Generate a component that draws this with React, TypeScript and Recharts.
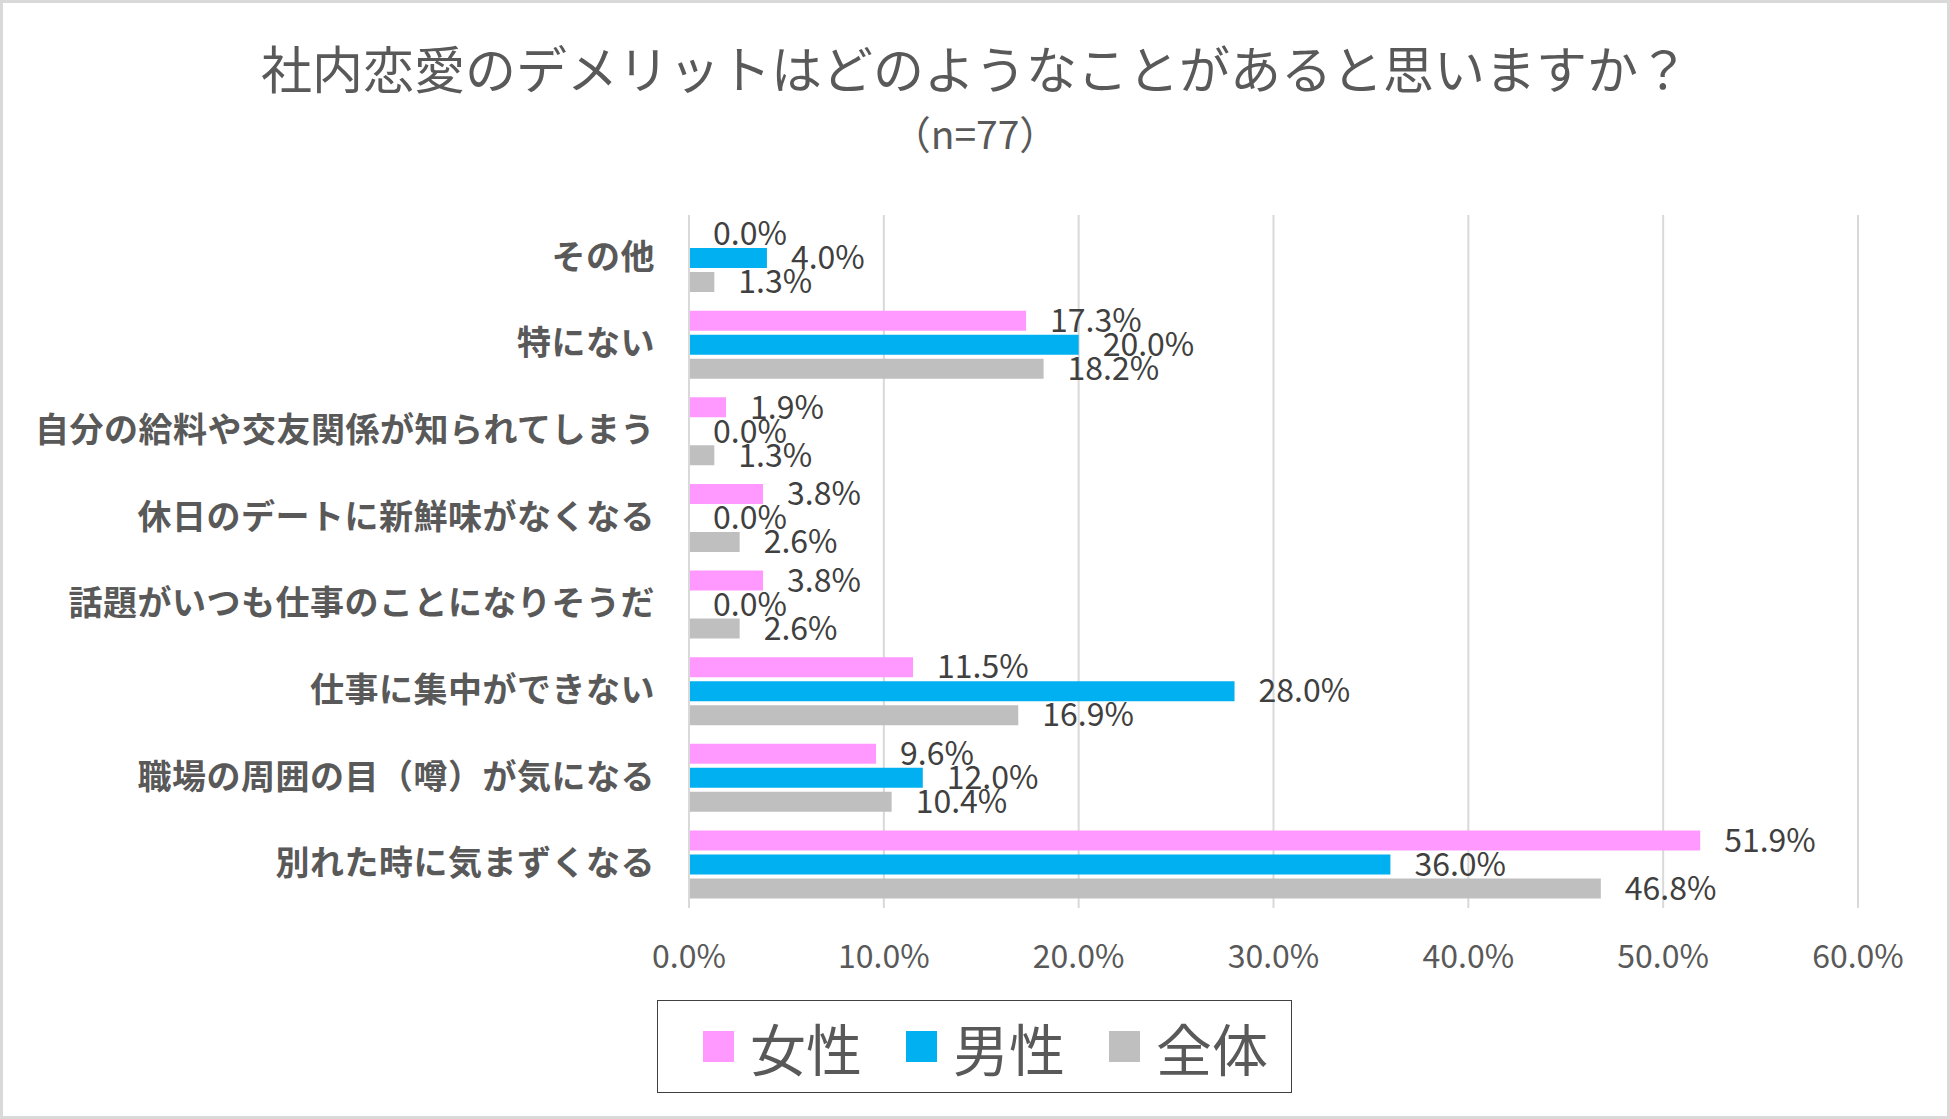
import React from 'react';
import { BarChart, Bar, XAxis, YAxis, CartesianGrid, LabelList, Legend } from 'recharts';

const categories = [
  'その他',
  '特にない',
  '自分の給料や交友関係が知られてしまう',
  '休日のデートに新鮮味がなくなる',
  '話題がいつも仕事のことになりそうだ',
  '仕事に集中ができない',
  '職場の周囲の目（噂）が気になる',
  '別れた時に気まずくなる',
];
const female = [0.0, 17.3, 1.9, 3.8, 3.8, 11.5, 9.6, 51.9];
const male = [4.0, 20.0, 0.0, 0.0, 0.0, 28.0, 12.0, 36.0];
const total = [1.3, 18.2, 1.3, 2.6, 2.6, 16.9, 10.4, 46.8];
const xTicks = [0, 10, 20, 30, 40, 50, 60];

const seriesNames = ['女性', '男性', '全体'];
const seriesColors = ['#FF99FF', '#00B0F0', '#BFBFBF'];

const data = categories.map((c, i) => ({ name: c, female: female[i], male: male[i], total: total[i] }));

const FONT = '"Noto Sans CJK JP", "Noto Sans", sans-serif';

const YTick = (props: any) => {
  const { x, y, payload } = props;
  return (
    <text x={x} y={y} dy={-4} textAnchor="end" dominantBaseline="central" fill="#595959" fontSize={34} fontWeight={700} fontFamily={FONT} letterSpacing={0.5}>
      {payload.value}
    </text>
  );
};

const XTick = (props: any) => {
  const { x, y, payload } = props;
  return (
    <text x={x} y={y} textAnchor="middle" dominantBaseline="central" fill="#595959" fontSize={32} fontFamily={FONT}>
      {`${Number(payload.value).toFixed(1)}%`}
    </text>
  );
};

const LegendContent = () => (
  <div
    style={{
      width: 635,
      height: 93,
      border: '1.5px solid #404040',
      boxSizing: 'border-box',
      display: 'flex',
      alignItems: 'center',
      justifyContent: 'flex-start',
      paddingLeft: 45,
      fontFamily: FONT,
      background: '#fff',
    }}
  >
    {seriesNames.map((n, i) => (
      <div key={n} style={{ display: 'flex', alignItems: 'center', marginRight: i < 2 ? 44 : 0 }}>
        <div style={{ width: 31, height: 31, background: seriesColors[i], marginRight: 16 }} />
        <span style={{ fontSize: 56, color: '#595959', lineHeight: 1 }}>{n}</span>
      </div>
    ))}
  </div>
);

const fmt = (v: any) => `${Number(v).toFixed(1)}%`;

export default function App() {
  return (
    <div
      style={{
        position: 'absolute',
        left: 0,
        top: 0,
        width: 1950,
        height: 1119,
        background: '#fff',
        boxSizing: 'border-box',
        border: '3px solid #d9d9d9',
        overflow: 'hidden',
      }}
    >
      <div
        style={{
          position: 'absolute',
          left: 0,
          top: 34,
          width: '100%',
          textAlign: 'center',
          fontFamily: FONT,
          fontSize: 51,
          color: '#595959',
          lineHeight: 1.2,
        }}
      >
        社内恋愛のデメリットはどのようなことがあると思いますか？
      </div>
      <div
        style={{
          position: 'absolute',
          left: 0,
          top: 106,
          width: '100%',
          textAlign: 'center',
          fontFamily: FONT,
          fontSize: 39,
          color: '#595959',
          lineHeight: 1.2,
        }}
      >
        （n=77）
      </div>
      <div style={{ position: 'absolute', left: -3, top: -3 }}>
        <BarChart
          width={1950}
          height={1119}
          data={data}
          layout="vertical"
          margin={{ top: 215, right: 92, bottom: 151, left: 0 }}
          barSize={20}
          barGap={4}
        >
          <CartesianGrid horizontal={false} stroke="#d9d9d9" strokeWidth={2} />
          <XAxis
            type="number"
            domain={[0, 60]}
            ticks={xTicks}
            interval={0}
            tick={<XTick />}
            tickLine={false}
            axisLine={false}
            tickSize={0}
            tickMargin={46}
            height={60}
          />
          <YAxis
            type="category"
            dataKey="name"
            width={689}
            tick={<YTick />}
            tickLine={false}
            axisLine={{ stroke: '#d9d9d9', strokeWidth: 2 }}
            tickSize={0}
            tickMargin={34}
            interval={0}
          />
          <Legend
            layout="horizontal"
            verticalAlign="middle"
            align="center"
            wrapperStyle={{ left: 657, top: 1000, width: 635, height: 93 }}
            content={<LegendContent />}
          />
          <Bar dataKey="female" name="女性" fill={seriesColors[0]} minPointSize={0.01} isAnimationActive={false}>
            <LabelList dataKey="female" position="right" offset={24} formatter={fmt} fill="#404040" fontSize={32} fontFamily={FONT} />
          </Bar>
          <Bar dataKey="male" name="男性" fill={seriesColors[1]} minPointSize={0.01} isAnimationActive={false}>
            <LabelList dataKey="male" position="right" offset={24} formatter={fmt} fill="#404040" fontSize={32} fontFamily={FONT} />
          </Bar>
          <Bar dataKey="total" name="全体" fill={seriesColors[2]} minPointSize={0.01} isAnimationActive={false}>
            <LabelList dataKey="total" position="right" offset={24} formatter={fmt} fill="#404040" fontSize={32} fontFamily={FONT} />
          </Bar>
        </BarChart>
      </div>
    </div>
  );
}
